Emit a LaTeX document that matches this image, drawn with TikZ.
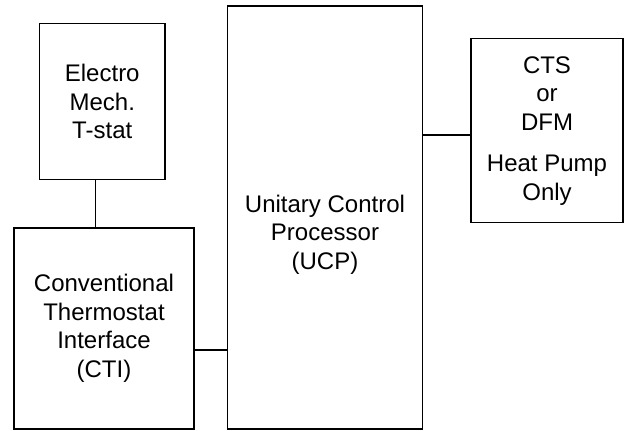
\documentclass[tikz,border=0pt]{standalone}
\usepackage{fontspec}
\setmainfont{Liberation Sans}
\usetikzlibrary{positioning, calc}

\begin{document}
\begin{tikzpicture}[x=0.5pt, y=-0.5pt,
		unit/.style={draw, line width=0.6pt, inner sep=0pt, align=center,
			font=\fontsize{12}{14.25}\selectfont},
		unittext/.style={inner sep=0pt, align=center, font=\fontsize{12}{14.25}\selectfont},
		wire/.style={line width=0.6pt}]
			
			% ----- Frame -----
			\useasboundingbox (0,0) rectangle (626,430);
			
			% ----- Thermostat side (left) -----
			\node[unit, minimum width=62.75pt, minimum height=78pt] (tstat) at (102.25,101.5)
				{Electro\\Mech.\\T-stat};
			\node[unit, minimum width=90pt, minimum height=100.5pt] (cti) at (104,328.5)
				{Conventional\\Thermostat\\Interface\\(CTI)};
			
			% ----- Processor (middle) -----
			\node[unit, minimum width=97.7pt, minimum height=211.5pt] (ucp) at (325,217.5) {};
			\node[unittext] (ucptext) at (325,234.7) {Unitary Control\\Processor\\(UCP)};
			
			% ----- Heat pump option (right) -----
			\node[unit, minimum width=76pt, minimum height=92pt] (cts) at (547,130.7)
				{CTS\\or\\DFM\\[6.5pt]Heat Pump\\Only};
			
			% ----- Wiring -----
			\draw[wire] ([xshift=-3.25pt]tstat.south) -- ([xshift=-3.25pt]tstat.south |- cti.north);
			\draw[wire] ([yshift=-10.75pt]cti.east) -- ([yshift=-10.75pt]cti.east -| ucp.west);
			\draw[wire] ([yshift=-2.15pt]cts.west) -- ([yshift=-2.15pt]cts.west -| ucp.east);
			
\end{tikzpicture}
\end{document}
